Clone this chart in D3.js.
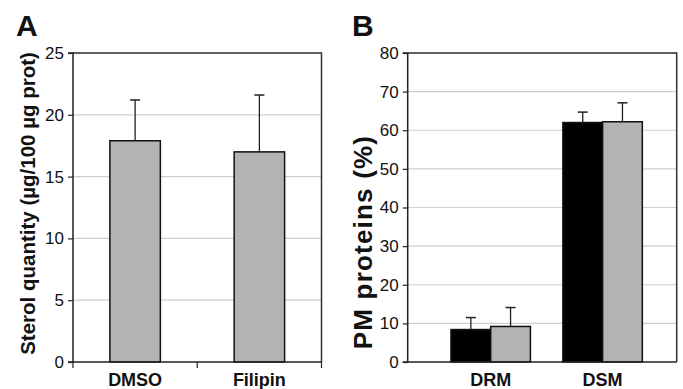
<!DOCTYPE html>
<html><head><meta charset="utf-8">
<script src="https://cdn.jsdelivr.net/npm/d3@7"></script>
<style>body{margin:0;background:#fff}svg{display:block}text{font-family:"Liberation Sans",Arial,Helvetica,sans-serif}</style>
</head><body>
<svg id="c" width="683" height="389"></svg>
<script>
// Panel A data
const catsA = ["DMSO", "Filipin"];
const valsA = [17.9, 17.0];
const errA = [3.3, 4.6];
const ticksA = [0, 5, 10, 15, 20, 25];
// Panel B data
const catsB = ["DRM", "DSM"];
const seriesB = ["s1", "s2"];
const valsB1 = [8.4, 62.0];
const valsB2 = [9.2, 62.2];
const errB1 = [3.1, 2.7];
const errB2 = [4.9, 4.9];
const ticksB = [0, 10, 20, 30, 40, 50, 60, 70, 80];

const svg = d3.select("#c");
const gray = "#b3b3b3";
const gridC = "#cfcfcf";

function frame(g, x0, x1, y, ticks){
  g.selectAll(".grid").data(ticks.filter(t=>t>0)).join("line")
    .attr("x1", x0).attr("x2", x1).attr("y1", d=>y(d)).attr("y2", d=>y(d))
    .attr("stroke", gridC).attr("stroke-width", 1.2);
}

// ---------- Panel A ----------
{
  const L = 73, R = 321.5, T = 53, B = 362;
  const y = d3.scaleLinear().domain([0, 25]).range([B, T]);
  const x = d3.scaleBand().domain(catsA).range([L, R]).paddingInner(0.594).paddingOuter(0.297);
  const g = svg.append("g");
  frame(g, L, R, y, ticksA);
  g.append("path").attr("d", `M${L},${T}H${R}V${B}`).attr("fill","none").attr("stroke","#333").attr("stroke-width",1.5);
  g.selectAll(".bar").data(catsA).join("rect")
    .attr("x", d=>x(d)).attr("width", x.bandwidth())
    .attr("y", (d,i)=>y(valsA[i])).attr("height", (d,i)=>B - y(valsA[i]))
    .attr("fill", gray).attr("stroke", "#111").attr("stroke-width", 1.5);
  const eb = g.selectAll(".eb").data(catsA).join("g");
  eb.append("line").attr("x1", d=>x(d)+x.bandwidth()/2).attr("x2", d=>x(d)+x.bandwidth()/2)
    .attr("y1", (d,i)=>y(valsA[i])).attr("y2", (d,i)=>y(valsA[i]+errA[i])).attr("stroke","#222").attr("stroke-width",1.3);
  eb.append("line").attr("x1", d=>x(d)+x.bandwidth()/2-5).attr("x2", d=>x(d)+x.bandwidth()/2+5)
    .attr("y1", (d,i)=>y(valsA[i]+errA[i])).attr("y2", (d,i)=>y(valsA[i]+errA[i])).attr("stroke","#222").attr("stroke-width",1.5);
  const ya = g.append("g").attr("transform", `translate(${L},0)`)
    .call(d3.axisLeft(y).tickValues(ticksA).tickSize(5).tickPadding(4));
  ya.select(".domain").attr("stroke","#222").attr("stroke-width",1.5).attr("d", `M-5,${T}H0V${B}H-5`);
  ya.selectAll(".tick line").attr("stroke","#222").attr("stroke-width",1.2);
  ya.selectAll(".tick text").attr("font-size", 17).attr("fill","#111").attr("font-family","Liberation Sans, Arial, sans-serif");
  const xa = g.append("g").attr("transform", `translate(0,${B})`);
  xa.append("line").attr("x1", L).attr("x2", R).attr("stroke","#222").attr("stroke-width",1.5);
  const bounds = [L, (L+R)/2, R];
  xa.selectAll(".xt").data(bounds).join("line").attr("x1", d=>d).attr("x2", d=>d).attr("y1",0).attr("y2",6).attr("stroke","#222").attr("stroke-width",1.2);
  xa.selectAll(".xl").data(catsA).join("text").attr("x", d=>x(d)+x.bandwidth()/2).attr("y", 24)
    .attr("text-anchor","middle").attr("font-weight","bold").attr("font-size",18).attr("fill","#111").text(d=>d);
  g.append("text").attr("transform", `translate(35,${(T+B)/2 - 4}) rotate(-90)`).attr("text-anchor","middle")
    .attr("font-weight","bold").attr("font-size",20.5).attr("fill","#111").text("Sterol quantity (µg/100 µg prot)");
  g.append("text").attr("x", 16).attr("y", 36).attr("font-weight","bold").attr("font-size",30).attr("fill","#111").text("A");
}

// ---------- Panel B ----------
{
  const L = 407.7, R = 676.7, T = 53, B = 362;
  const y = d3.scaleLinear().domain([0, 80]).range([B, T]);
  const x = d3.scaleBand().domain(catsB).range([434.75, 658.55]).paddingInner(0.29).paddingOuter(0.145);
  const xs = d3.scaleBand().domain(seriesB).range([0, x.bandwidth()]);
  const g = svg.append("g");
  frame(g, L, R, y, ticksB);
  g.append("path").attr("d", `M${L},${T}H${R}V${B}`).attr("fill","none").attr("stroke","#333").attr("stroke-width",1.5);
  const series = [{k:"s1", v:valsB1, e:errB1, c:"#000"}, {k:"s2", v:valsB2, e:errB2, c:gray}];
  series.forEach(s=>{
    g.selectAll(".b"+s.k).data(catsB).join("rect")
      .attr("x", d=>x(d)+xs(s.k)).attr("width", xs.bandwidth())
      .attr("y", (d,i)=>y(s.v[i])).attr("height", (d,i)=>B - y(s.v[i]))
      .attr("fill", s.c).attr("stroke","#111").attr("stroke-width",1.5);
    const cx = d=>x(d)+xs(s.k)+xs.bandwidth()/2;
    g.selectAll(".ev"+s.k).data(catsB).join("line").attr("x1",cx).attr("x2",cx)
      .attr("y1",(d,i)=>y(s.v[i])).attr("y2",(d,i)=>y(s.v[i]+s.e[i])).attr("stroke","#222").attr("stroke-width",1.3);
    g.selectAll(".ec"+s.k).data(catsB).join("line").attr("x1",d=>cx(d)-5).attr("x2",d=>cx(d)+5)
      .attr("y1",(d,i)=>y(s.v[i]+s.e[i])).attr("y2",(d,i)=>y(s.v[i]+s.e[i])).attr("stroke","#222").attr("stroke-width",1.5);
  });
  const ya = g.append("g").attr("transform", `translate(${L},0)`)
    .call(d3.axisLeft(y).tickValues(ticksB).tickSize(5).tickPadding(4));
  ya.select(".domain").attr("stroke","#222").attr("stroke-width",1.5).attr("d", `M-5,${T}H0V${B}H-5`);
  ya.selectAll(".tick line").attr("stroke","#222").attr("stroke-width",1.2);
  ya.selectAll(".tick text").attr("font-size", 17).attr("fill","#111").attr("font-family","Liberation Sans, Arial, sans-serif");
  const xa = g.append("g").attr("transform", `translate(0,${B})`);
  xa.append("line").attr("x1", L).attr("x2", R).attr("stroke","#222").attr("stroke-width",1.5);
  xa.selectAll(".xl").data(catsB).join("text").attr("x", d=>x(d)+x.bandwidth()/2).attr("y", 24)
    .attr("text-anchor","middle").attr("font-weight","bold").attr("font-size",18).attr("fill","#111").text(d=>d);
  g.append("text").attr("transform", `translate(372,${242}) rotate(-90)`).attr("text-anchor","middle")
    .attr("font-weight","bold").attr("font-size",26).attr("letter-spacing",1.2).attr("fill","#111").text("PM proteins (%)");
  g.append("text").attr("x", 352).attr("y", 36).attr("font-weight","bold").attr("font-size",30).attr("fill","#111").text("B");
}
</script>
</body></html>
